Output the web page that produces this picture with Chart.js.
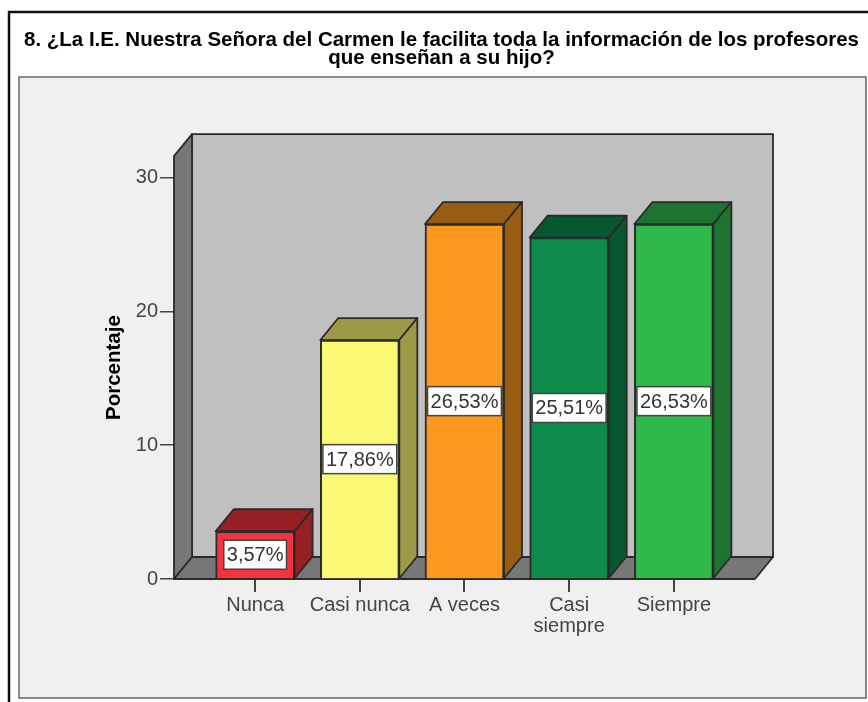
<!DOCTYPE html>
<html>
<head>
<meta charset="utf-8">
<script src="https://cdn.jsdelivr.net/npm/chart.js@4"></script>
<style>
html, body { margin: 0; padding: 0; background: #fff; overflow: hidden; }
canvas { display: block; }
</style>
</head>
<body>
<canvas id="myChart" width="868" height="702"></canvas>
<script>
var titleLines = ["8. ¿La I.E. Nuestra Señora del Carmen le facilita toda la información de los profesores", "que enseñan a su hijo?"]
var categories = ["Nunca", "Casi nunca", "A veces", ["Casi", "siempre"], "Siempre"]
var percentages = [3.57, 17.86, 26.53, 25.51, 26.53]
var frontColors = ["#f5333f", "#fbf873", "#fb981d", "#0e8c4b", "#2fb94a"]
var sideColors = ["#961f24", "#9c9a47", "#975d12", "#07582f", "#1c7430"]

// depth of the fake 3D box, in pixels
var depthX = 18
var depthY = 22
var lineColor = "#2a2a2a"
var font = "'Liberation Sans', Arial, sans-serif"

function poly(ctx, pts, fill) {
  ctx.beginPath()
  ctx.moveTo(pts[0][0], pts[0][1])
  for (var i = 1; i < pts.length; i++) ctx.lineTo(pts[i][0], pts[i][1])
  ctx.closePath()
  ctx.fillStyle = fill
  ctx.fill()
  ctx.stroke()
}

var backdrop = {
  id: "backdrop",
  beforeDraw: function(chart) {
    var ctx = chart.ctx
    ctx.save()
    ctx.fillStyle = "#fff"
    ctx.fillRect(0, 0, 868, 702)
    // outer frame runs off the picture on the right and bottom
    ctx.strokeStyle = "#111"
    ctx.lineWidth = 2.5
    ctx.strokeRect(9, 12, 900, 760)
    ctx.fillStyle = "#f0f0f0"
    ctx.strokeStyle = "#666"
    ctx.lineWidth = 1.5
    ctx.fillRect(19, 77, 847, 621)
    ctx.strokeRect(19, 77, 847, 621)
    ctx.restore()
  },
  beforeDatasetsDraw: function(chart) {
    var ctx = chart.ctx
    var a = chart.chartArea
    ctx.save()
    ctx.strokeStyle = lineColor
    ctx.lineWidth = 1.8
    ctx.lineJoin = "round"
    // back wall, left wall, floor
    poly(ctx, [[a.left + depthX, a.top - depthY], [a.right + depthX, a.top - depthY], [a.right + depthX, a.bottom - depthY], [a.left + depthX, a.bottom - depthY]], "#c0c0c0")
    poly(ctx, [[a.left, a.top], [a.left + depthX, a.top - depthY], [a.left + depthX, a.bottom - depthY], [a.left, a.bottom]], "#777")
    poly(ctx, [[a.left, a.bottom], [a.left + depthX, a.bottom - depthY], [a.right + depthX, a.bottom - depthY], [a.right, a.bottom]], "#777")
    // bar tops and sides
    chart.getDatasetMeta(0).data.forEach(function(bar, i) {
      var l = bar.x - bar.width / 2
      var r = bar.x + bar.width / 2
      poly(ctx, [[l, bar.y], [l + depthX, bar.y - depthY], [r + depthX, bar.y - depthY], [r, bar.y]], sideColors[i])
      poly(ctx, [[r, bar.y], [r + depthX, bar.y - depthY], [r + depthX, bar.base - depthY], [r, bar.base]], sideColors[i])
    })
    ctx.restore()
  },
  afterDatasetsDraw: function(chart) {
    var ctx = chart.ctx
    ctx.save()
    ctx.font = "20px " + font
    ctx.textAlign = "center"
    ctx.textBaseline = "middle"
    chart.getDatasetMeta(0).data.forEach(function(bar, i) {
      var text = percentages[i].toFixed(2).replace(".", ",") + "%"
      var w = ctx.measureText(text).width + 6
      var mid = (bar.y + bar.base) / 2
      ctx.fillStyle = "#fff"
      ctx.strokeStyle = "#444"
      ctx.lineWidth = 1.5
      ctx.fillRect(bar.x - w / 2, mid - 14.5, w, 29)
      ctx.strokeRect(bar.x - w / 2, mid - 14.5, w, 29)
      ctx.fillStyle = "#333"
      ctx.fillText(text, bar.x, mid + 1)
    })
    ctx.restore()
  }
}

var points = percentages.map(function(v, i) { return { x: i, y: v } })

var myChart = new Chart(document.getElementById("myChart"), {
  type: "bar",
  plugins: [backdrop],
  data: {
    datasets: [{
      data: points,
      backgroundColor: frontColors,
      borderColor: lineColor,
      borderWidth: 2,
      barThickness: 79
    }]
  },
  options: {
    responsive: false,
    animation: false,
    layout: { padding: { left: 15, right: 0, top: 0, bottom: 0 } },
    plugins: {
      legend: { display: false },
      tooltip: { enabled: false },
      title: {
        display: true,
        text: titleLines,
        color: "#000",
        font: { family: font, size: 20.5, weight: "bold", lineHeight: 0.88 },
        padding: { top: 31, bottom: 89 }
      }
    },
    scales: {
      x: {
        type: "linear",
        offset: false,
        min: -0.775,
        max: 4.775,
        afterBuildTicks: function(scale) {
          scale.ticks = categories.map(function(c, i) { return { value: i } })
        },
        afterFit: function(scale) { scale.height = 123 },
        border: { display: false },
        grid: { offset: false, drawOnChartArea: false, drawTicks: true, tickLength: 13, color: "#444", lineWidth: 2 },
        ticks: {
          autoSkip: false,
          maxRotation: 0,
          color: "#444",
          padding: 3,
          font: { family: font, size: 20, lineHeight: 1.05 },
          callback: function(value) { return categories[value] }
        }
      },
      y: {
        min: 0,
        max: 31.61,
        afterFit: function(scale) { scale.width = 159 },
        border: { display: false },
        grid: { drawOnChartArea: false, drawTicks: true, tickLength: 14, color: "#444", lineWidth: 1.5 },
        ticks: {
          stepSize: 10,
          includeBounds: false,
          color: "#444",
          padding: 2,
          font: { family: font, size: 20 }
        },
        title: {
          display: true,
          text: "Porcentaje",
          color: "#000",
          font: { family: font, size: 20.5, weight: "bold", lineHeight: 1 },
          padding: { top: 89, bottom: 0 }
        }
      },
      // empty axis that reserves the space right of the floor
      spacer: {
        position: "right",
        afterFit: function(scale) { scale.width = 113 },
        border: { display: false },
        grid: { display: false },
        ticks: { display: false }
      }
    }
  }
})
</script>
</body>
</html>
